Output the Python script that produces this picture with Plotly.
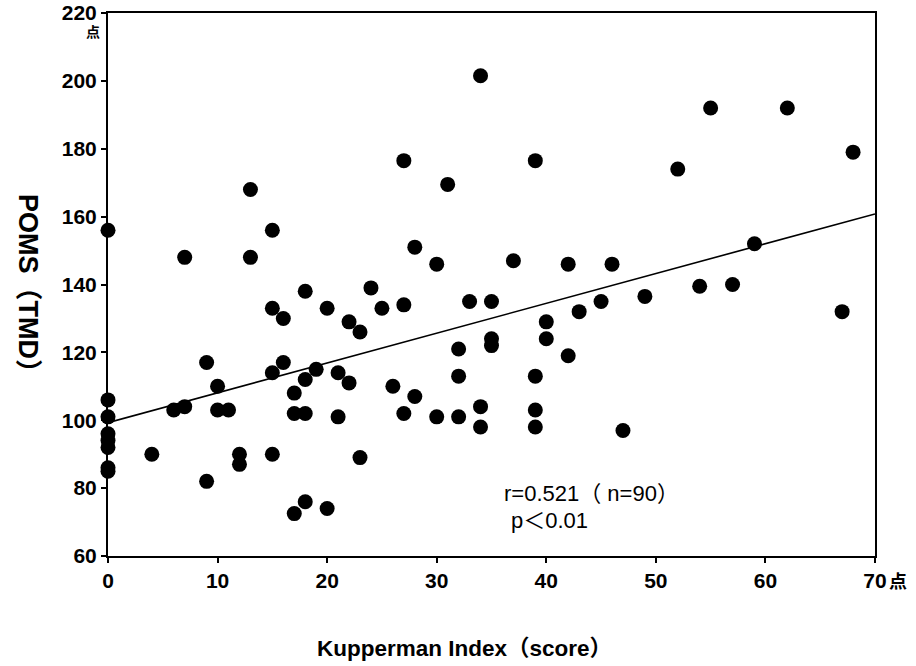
import plotly.graph_objects as go

# Kupperman Index (score) vs POMS (TMD)
kupperman = [0, 0, 0, 0, 0, 0, 0, 0,
             4, 6, 7, 7, 9, 9, 10, 10, 11, 12, 12, 13, 13,
             15, 15, 15, 15, 16, 16, 17, 17, 17, 18, 18, 18, 18, 19,
             20, 20, 21, 21, 22, 22, 23, 23, 24, 25, 26,
             27, 27, 27, 28, 28, 30, 30, 31, 32, 32, 32, 33,
             34, 34, 34, 35, 35, 35, 37, 39, 39, 39, 39, 40, 40,
             42, 42, 43, 45, 46, 47, 49, 52, 54, 55, 57, 59, 62, 67, 68]
poms = [156, 106, 101, 96, 94, 92, 86, 85,
        90, 103, 104, 148, 82, 117, 110, 103, 103, 90, 87, 168, 148,
        156, 133, 114, 90, 130, 117, 108, 102, 72.5, 138, 112, 102, 76, 115,
        133, 74, 114, 101, 129, 111, 126, 89, 139, 133, 110,
        176.5, 134, 102, 151, 107, 146, 101, 169.5, 121, 113, 101, 135,
        201.5, 104, 98, 135, 124, 122, 147, 176.5, 113, 103, 98, 129, 124,
        146, 119, 132, 135, 146, 97, 136.5, 174, 139.5, 192, 140, 152, 192, 132, 179]

# regression line
reg_x = [0, 70]
reg_y = [99.3, 160.8]

x_ticks = [0, 10, 20, 30, 40, 50, 60, 70]
y_ticks = [60, 80, 100, 120, 140, 160, 180, 200, 220]

FONT = "Liberation Sans, Noto Sans CJK JP"

fig = go.Figure()
fig.add_trace(go.Scatter(x=reg_x, y=reg_y, mode="lines",
                         line=dict(color="black", width=1.6),
                         showlegend=False, hoverinfo="skip"))
fig.add_trace(go.Scatter(x=kupperman, y=poms, mode="markers",
                         marker=dict(color="black", size=15, symbol="circle"),
                         showlegend=False, cliponaxis=False))

tickfont = dict(size=21, family=FONT, weight="bold", color="black")

fig.update_layout(
    width=916, height=666,
    margin=dict(l=108, r=41, t=13, b=110, autoexpand=False),
    paper_bgcolor="white", plot_bgcolor="white",
    font=dict(family=FONT, color="black", size=20),
    xaxis=dict(range=[0, 70.001], tickvals=x_ticks, ticktext=[str(v) for v in x_ticks],
               showgrid=False, zeroline=False, showline=True, linecolor="black",
               linewidth=2, mirror=True, ticks="outside", ticklen=5, tickwidth=2,
               tickcolor="black", tickfont=tickfont, automargin=False),
    yaxis=dict(range=[59.999, 220.001], tickvals=y_ticks, ticktext=[str(v) for v in y_ticks],
               showgrid=False, zeroline=False, showline=True, linecolor="black",
               linewidth=2, mirror=True, ticks="outside", ticklen=5, tickwidth=2,
               tickcolor="black", tickfont=tickfont, automargin=False),
)

W, H = 916, 666
L, R, T, B = 108, 41, 13, 110
pw, ph = W - L - R, H - T - B

def px(x):
    return (x - L) / pw

def py(y):
    return (H - B - y) / ph

def ann(text, x, y, size, xanchor="center", angle=0, bold=True):
    fig.add_annotation(text=text, x=px(x), y=py(y), xref="paper", yref="paper",
                       showarrow=False, textangle=angle,
                       xanchor=xanchor, yanchor="middle",
                       font=dict(size=size, family=FONT, color="black",
                                 weight="bold" if bold else "normal"))

ann("POMS（TMD）", 28, 290, 27, angle=90)
ann("Kupperman Index（score）", 464, 648, 22.5)
ann("点", 93, 32, 14)
ann("点", 898, 582, 18)
ann("r=0.521（ n=90）", 502, 493, 22, xanchor="left", bold=False)
ann("p＜0.01", 509, 520, 22, xanchor="left", bold=False)

fig.write_html("out.html")
